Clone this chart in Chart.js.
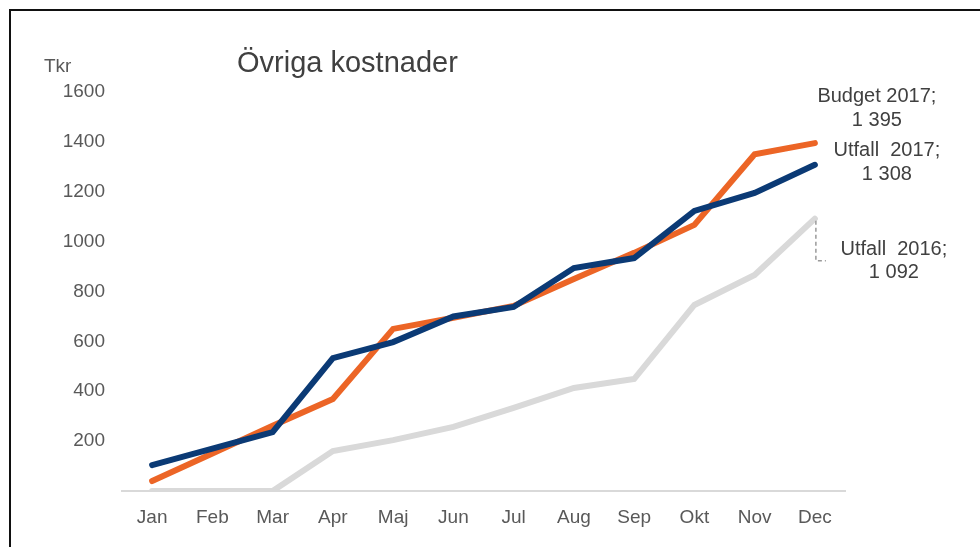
<!DOCTYPE html>
<html lang="sv">
<head>
  <meta charset="UTF-8">
  <title>Övriga kostnader</title>
  <script src="https://cdn.jsdelivr.net/npm/chart.js"></script>
  <style>
    html, body { margin: 0; padding: 0; background: #fff; }
    #wrap { width: 980px; height: 547px; position: relative; }
  </style>
</head>
<body>
  <div id="wrap"><canvas id="chart" width="980" height="547"></canvas></div>
  <script>
    // Data läst från diagrammet (Tkr, ackumulerat)
    const months = ['Jan', 'Feb', 'Mar', 'Apr', 'Maj', 'Jun', 'Jul', 'Aug', 'Sep', 'Okt', 'Nov', 'Dec'];
    const utfall2017 = [104, 170, 236, 533, 597, 700, 738, 894, 934, 1123, 1195, 1308];
    const budget2017 = [40, 150, 262, 369, 650, 695, 742, 850, 955, 1067, 1350, 1395];
    const utfall2016 = [0, 0, 0, 160, 204, 257, 333, 413, 449, 746, 866, 1092];
    const yTicks = [200, 400, 600, 800, 1000, 1200, 1400, 1600];

    const textColor = '#595959';
    const font = 'Liberation Sans, Arial, sans-serif';

    // Ram, rubrik och etiketter
    const decorations = {
      id: 'decorations',
      beforeDraw(chart) {
        const ctx = chart.ctx;
        ctx.save();
        ctx.fillStyle = '#fff';
        ctx.fillRect(0, 0, chart.width, chart.height);
        ctx.fillStyle = '#111';
        ctx.fillRect(9, 9, 2, 538);
        ctx.fillRect(9, 9, 971, 2);
        ctx.restore();
      },
      afterDraw(chart) {
        const ctx = chart.ctx;
        const x = chart.scales.x, y = chart.scales.y;
        ctx.save();
        ctx.fillStyle = '#404040';
        ctx.textBaseline = 'middle';
        ctx.textAlign = 'left';
        ctx.font = '29px ' + font;
        ctx.fillText('Övriga kostnader', 237, 64);
        ctx.fillStyle = textColor;
        ctx.font = '19px ' + font;
        ctx.fillText('Tkr', 44, 67);

        const last = months.length - 1;
        const px = x.getPixelForValue(last);
        ctx.textAlign = 'center';
        ctx.fillStyle = '#404040';
        ctx.font = '20px ' + font;
        // Budget 2017
        let py = y.getPixelForValue(budget2017[last]);
        ctx.fillText('Budget 2017;', px + 62, py - 47);
        ctx.fillText('1 395', px + 62, py - 23);
        // Utfall 2017
        py = y.getPixelForValue(utfall2017[last]);
        ctx.fillText('Utfall  2017;', px + 72, py - 14);
        ctx.fillText('1 308', px + 72, py + 10);
        // Utfall 2016 med streckad hänvisningslinje
        py = y.getPixelForValue(utfall2016[last]);
        ctx.fillText('Utfall  2016;', px + 79, py + 31);
        ctx.fillText('1 092', px + 79, py + 54);
        ctx.strokeStyle = '#9a9a9a';
        ctx.lineWidth = 1.5;
        ctx.setLineDash([4, 3]);
        ctx.beginPath();
        ctx.moveTo(px + 1, py + 2);
        ctx.lineTo(px + 1, py + 42);
        ctx.lineTo(px + 11, py + 42);
        ctx.stroke();
        ctx.restore();
      }
    };

    new Chart(document.getElementById('chart'), {
      type: 'line',
      data: {
        labels: months,
        datasets: [
          { label: 'Utfall 2016', data: utfall2016, borderColor: '#d9d9d9', borderWidth: 6 },
          { label: 'Utfall 2017', data: utfall2017, borderColor: '#0b3a75', borderWidth: 6 },
          { label: 'Budget 2017', data: budget2017, borderColor: '#ec6526', borderWidth: 6 }
        ]
      },
      options: {
        responsive: false,
        animation: false,
        layout: { padding: { left: 10, right: 135, top: 92, bottom: 0 } },
        elements: {
          point: { radius: 0 },
          line: { tension: 0, borderCapStyle: 'round', borderJoinStyle: 'miter' }
        },
        plugins: { legend: { display: false }, tooltip: { enabled: false } },
        scales: {
          x: {
            offset: true,
            grid: { display: false, drawTicks: false },
            border: { display: true, color: '#d9d9d9', width: 2 },
            ticks: { color: textColor, font: { family: font, size: 19 }, padding: 15 },
            afterFit(scale) { scale.height = 56; }
          },
          y: {
            min: 0,
            max: 1600,
            grid: { display: false, drawTicks: false },
            border: { display: false },
            afterBuildTicks(scale) { scale.ticks = yTicks.map(v => ({ value: v })); },
            ticks: {
              color: textColor,
              font: { family: font, size: 19 },
              padding: 17,
              callback: v => String(v)
            },
            afterFit(scale) { scale.width = 112; }
          }
        }
      },
      plugins: [decorations]
    });
  </script>
</body>
</html>
